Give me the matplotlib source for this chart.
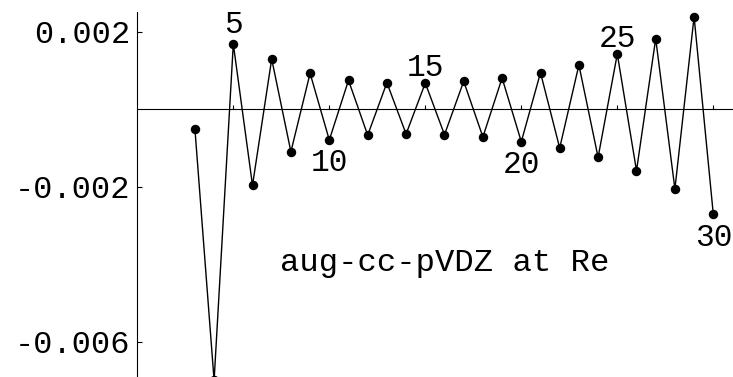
import matplotlib.pyplot as plt

# data
n = list(range(3, 31))
vals = [-0.000503, -0.0070, 0.001683, -0.001964, 0.001295, -0.001097, 0.000926,
        -0.000795, 0.000746, -0.000670, 0.000684, -0.000640, 0.000676, -0.000658,
        0.000720, -0.000717, 0.000805, -0.000839, 0.000942, -0.001001, 0.001141,
        -0.001241, 0.001425, -0.001587, 0.001820, -0.002059, 0.002387, -0.002713]
label_n = [5, 10, 15, 20, 25, 30]
label_dy = [19, -23, 15, -23, 15, -24]   # pixels, + is up
ytick_vals = [0.002, -0.002, -0.006]
ytick_labels = ["0.002", "-0.002", "-0.006"]
note = "aug-cc-pVDZ at Re"

plt.rcParams['font.family'] = ['Liberation Mono', 'DejaVu Sans Mono']

W, H = 733, 377
fig = plt.figure(figsize=(W / 100, H / 100), dpi=100)
x0 = 137.3
ax = fig.add_axes([x0 / W, 0, (W - x0) / W, 1])
ax.set_xlim(0, (W - x0) / 19.2)
ax.set_ylim(-0.00691, 0.002818)

ax.plot(n, vals, color='black', lw=1.0, marker='o', ms=5.8)

for k, dy in zip(label_n, label_dy):
    ax.annotate(str(k), (k, vals[n.index(k)]), xytext=(0, dy), textcoords='offset pixels',
                ha='center', va='center', fontsize=22.5)

ax.text(16.0, -0.00396, note, ha='center', va='center', fontsize=23.2)

for s in ['top', 'right']:
    ax.spines[s].set_visible(False)
ax.spines['bottom'].set_position(('data', 0))
ax.spines['left'].set_bounds(-0.0069, 0.0025)
ax.spines['left'].set_linewidth(0.8)
ax.spines['bottom'].set_linewidth(0.8)

ax.set_xticks(label_n)
ax.set_xticklabels([])
ax.tick_params(axis='x', direction='in', length=3, width=0.8)
ax.set_yticks(ytick_vals)
ax.set_yticklabels(ytick_labels)
ax.tick_params(axis='y', direction='in', length=3.5, width=0.8, pad=5, labelsize=23)

fig.savefig('out.png', dpi=100)
